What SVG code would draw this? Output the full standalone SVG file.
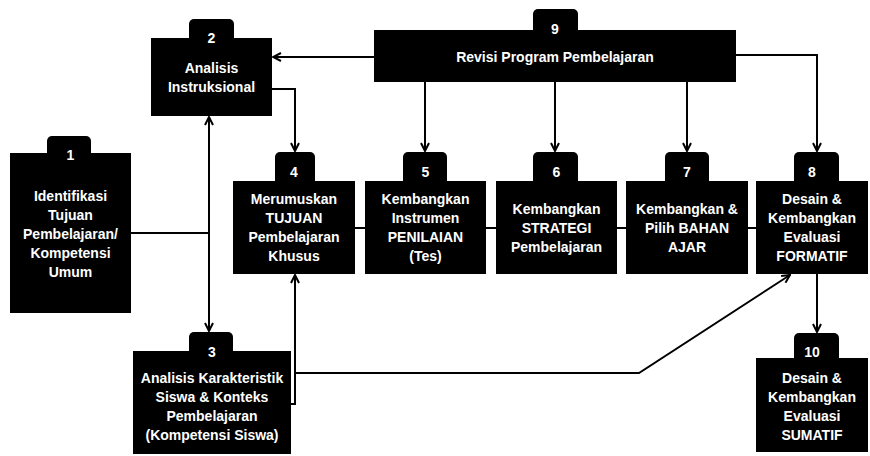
<svg xmlns="http://www.w3.org/2000/svg" width="870" height="456" viewBox="0 0 870 456">
<defs>
<style>
.box{fill:#000}
.t{fill:#fff;font-family:"Liberation Sans",Arial,sans-serif;font-size:14px;font-weight:bold;text-anchor:middle}
.c{fill:none;stroke:#000;stroke-width:2}
</style>
<marker id="ah" viewBox="0 0 10 10" refX="9" refY="5" markerWidth="10" markerHeight="10" markerUnits="userSpaceOnUse" orient="auto-start-reverse">
<path d="M1,1 L9,5 L1,9" fill="none" stroke="#000" stroke-width="2"/>
</marker>
</defs>
<rect width="870" height="456" fill="#fff"/>

<g id="connectors">
<path class="c" d="M374,57 H273" marker-end="url(#ah)"/>
<path class="c" d="M272,89 H295 V151" marker-end="url(#ah)"/>
<path class="c" d="M425,82 V151" marker-end="url(#ah)"/>
<path class="c" d="M555,82 V151" marker-end="url(#ah)"/>
<path class="c" d="M687,82 V151" marker-end="url(#ah)"/>
<path class="c" d="M736,55 H817 V151" marker-end="url(#ah)"/>
<path class="c" d="M131,233 H209"/>
<path class="c" d="M209,117 V331" marker-start="url(#ah)" marker-end="url(#ah)"/>
<path class="c" d="M355,228 H365 M486,228 H496 M617,228 H626 M748,228 H756"/>
<path class="c" d="M291,404 H295 V275" marker-end="url(#ah)"/>
<path class="c" d="M295,373 H639 L790,275" marker-end="url(#ah)"/>
<path class="c" d="M817,274 V332" marker-end="url(#ah)"/>
</g>

<g id="node1">
<rect class="box" x="47" y="136" width="44" height="24" rx="5"/>
<rect class="box" x="10" y="153" width="121" height="160"/>
<text class="t" x="70.5" y="160">1</text>
<text class="t" x="70.5" y="201">Identifikasi</text>
<text class="t" x="70.5" y="220">Tujuan</text>
<text class="t" x="70.5" y="239">Pembelajaran/</text>
<text class="t" x="70.5" y="258">Kompetensi</text>
<text class="t" x="70.5" y="277">Umum</text>
</g>

<g id="node2">
<rect class="box" x="189" y="19" width="45" height="26" rx="5"/>
<rect class="box" x="151" y="38" width="121" height="78"/>
<text class="t" x="211.5" y="43">2</text>
<text class="t" x="211.5" y="73">Analisis</text>
<text class="t" x="211.5" y="92">Instruksional</text>
</g>

<g id="node3">
<rect class="box" x="189" y="332" width="44" height="26" rx="5"/>
<rect class="box" x="133" y="351" width="158" height="103"/>
<text class="t" x="212" y="357">3</text>
<text class="t" x="212" y="383">Analisis Karakteristik</text>
<text class="t" x="212" y="402">Siswa &amp; Konteks</text>
<text class="t" x="212" y="421">Pembelajaran</text>
<text class="t" x="212" y="440">(Kompetensi Siswa)</text>
</g>

<g id="node4">
<rect class="box" x="275" y="152" width="40" height="36" rx="5"/>
<rect class="box" x="233" y="181" width="122" height="93"/>
<text class="t" x="294" y="177">4</text>
<text class="t" x="294" y="204">Merumuskan</text>
<text class="t" x="294" y="223">TUJUAN</text>
<text class="t" x="294" y="242">Pembelajaran</text>
<text class="t" x="294" y="261">Khusus</text>
</g>

<g id="node5">
<rect class="box" x="403" y="152" width="44" height="36" rx="5"/>
<rect class="box" x="365" y="181" width="121" height="93"/>
<text class="t" x="425.5" y="177">5</text>
<text class="t" x="425.5" y="204">Kembangkan</text>
<text class="t" x="425.5" y="223">Instrumen</text>
<text class="t" x="425.5" y="242">PENILAIAN</text>
<text class="t" x="425.5" y="261">(Tes)</text>
</g>

<g id="node6">
<rect class="box" x="533" y="152" width="45" height="36" rx="5"/>
<rect class="box" x="496" y="181" width="121" height="93"/>
<text class="t" x="556.5" y="177">6</text>
<text class="t" x="556.5" y="214">Kembangkan</text>
<text class="t" x="556.5" y="233">STRATEGI</text>
<text class="t" x="556.5" y="252">Pembelajaran</text>
</g>

<g id="node7">
<rect class="box" x="665" y="152" width="44" height="36" rx="5"/>
<rect class="box" x="626" y="181" width="122" height="93"/>
<text class="t" x="687" y="177">7</text>
<text class="t" x="687" y="214">Kembangkan &amp;</text>
<text class="t" x="687" y="233">Pilih BAHAN</text>
<text class="t" x="687" y="252">AJAR</text>
</g>

<g id="node8">
<rect class="box" x="794" y="152" width="45" height="36" rx="5"/>
<rect class="box" x="756" y="181" width="112" height="93"/>
<text class="t" x="812" y="177">8</text>
<text class="t" x="812" y="204">Desain &amp;</text>
<text class="t" x="812" y="223">Kembangkan</text>
<text class="t" x="812" y="242">Evaluasi</text>
<text class="t" x="812" y="261">FORMATIF</text>
</g>

<g id="node9">
<rect class="box" x="533" y="9" width="45" height="28" rx="5"/>
<rect class="box" x="374" y="30" width="362" height="52"/>
<text class="t" x="555" y="34">9</text>
<text class="t" x="555" y="62">Revisi Program Pembelajaran</text>
</g>

<g id="node10">
<rect class="box" x="794" y="333" width="45" height="32" rx="5"/>
<rect class="box" x="756" y="358" width="112" height="94"/>
<text class="t" x="812" y="357">10</text>
<text class="t" x="812" y="383">Desain &amp;</text>
<text class="t" x="812" y="402">Kembangkan</text>
<text class="t" x="812" y="421">Evaluasi</text>
<text class="t" x="812" y="440">SUMATIF</text>
</g>
</svg>
